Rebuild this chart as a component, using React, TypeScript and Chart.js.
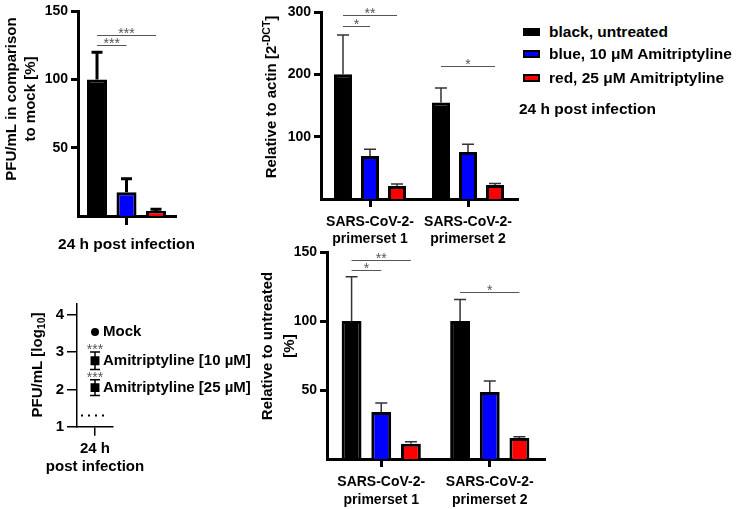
import React, { useEffect, useRef } from 'react';
import { Chart, registerables } from 'chart.js';

Chart.register(...registerables);

const FONT = "'Liberation Sans', Arial, Helvetica, sans-serif";

// ---------------- Data ----------------
const seriesNames = ['black, untreated', 'blue, 10 μM Amitriptyline', 'red, 25 μM Amitriptyline'];
const seriesColors = ['#000000', '#0000ff', '#ff0000'];
const legendNote = '24 h post infection';

// PFU/mL in comparison to mock [%]
const pfuCategories = ['24 h post infection'];
const pfuUntreated = [100];
const pfuAmi10 = [17.4];
const pfuAmi25 = [3.6];
const pfuUntreatedErr = [20];
const pfuAmi10Err = [10];
const pfuAmi25Err = [1.4];
const pfuTicks = [50, 100, 150];
const pfuSig = [
  { cat: 0, from: 0, to: 1, value: 125, text: '***' },
  { cat: 0, from: 0, to: 2, value: 133, text: '***' },
];

// Relative to actin [2^-DCT]
const primerCategories = [['SARS-CoV-2-', 'primerset 1'], ['SARS-CoV-2-', 'primerset 2']];
const actinUntreated = [200, 155];
const actinAmi10 = [69, 75.5];
const actinAmi25 = [21, 22.5];
const actinUntreatedErr = [63, 23];
const actinAmi10Err = [11, 12.5];
const actinAmi25Err = [3, 2.5];
const actinTicks = [100, 200, 300];
const actinSig = [
  { cat: 0, from: 0, to: 1, value: 278, text: '*' },
  { cat: 0, from: 0, to: 2, value: 295, text: '**' },
  { cat: 1, from: 0, to: 2, value: 213, text: '*' },
];

// Relative to untreated [%]
const relUntreated = [100, 100];
const relAmi10 = [34, 48.5];
const relAmi25 = [11, 15.2];
const relUntreatedErr = [32, 15.5];
const relAmi10Err = [6.5, 8];
const relAmi25Err = [1.5, 1];
const relTicks = [50, 100, 150];
const relSig = [
  { cat: 0, from: 0, to: 1, value: 137, text: '*' },
  { cat: 0, from: 0, to: 2, value: 144, text: '**' },
  { cat: 1, from: 0, to: 2, value: 121, text: '*' },
];

// PFU/mL [log10]
const logCategories = [['24 h', 'post infection']];
const logGroups = ['Mock', 'Amitriptyline [10 µM]', 'Amitriptyline [25 µM]'];
const logMeans = [3.54, 2.77, 2.05];
const logErr = [0, 0.235, 0.21];
const logSig = ['', '***', '***'];
const logMarkers = ['circle', 'rect', 'rect'];
const logTicks = [1, 2, 3, 4];
const logDetectionLimit = 1.3;

// ---------------- Plugins ----------------
const errorBarsPlugin = {
  id: 'errorBars',
  beforeDatasetsDraw(chart: any, _a: any, opts: any) {
    if (!opts || !opts.lineWidth) return;
    const { ctx } = chart;
    const y = chart.scales.y;
    chart.data.datasets.forEach((ds: any, di: number) => {
      if (!ds.errors) return;
      const meta = chart.getDatasetMeta(di);
      meta.data.forEach((el: any, i: number) => {
        const v = ds.data[i];
        const e = ds.errors[i];
        if (!e) return;
        const yTop = y.getPixelForValue(v + e);
        const yBot = y.getPixelForValue(opts.both ? v - e : v);
        const half = opts.cap / 2;
        ctx.save();
        ctx.strokeStyle = opts.color;
        ctx.lineWidth = opts.lineWidth;
        ctx.beginPath();
        ctx.moveTo(el.x, yBot);
        ctx.lineTo(el.x, yTop);
        ctx.moveTo(el.x - half, yTop);
        ctx.lineTo(el.x + half, yTop);
        if (opts.both) {
          ctx.moveTo(el.x - half, yBot);
          ctx.lineTo(el.x + half, yBot);
        }
        ctx.stroke();
        ctx.restore();
      });
    });
  },
};

const sigPlugin = {
  id: 'sigBrackets',
  afterDatasetsDraw(chart: any, _a: any, opts: any) {
    if (!opts || !opts.items) return;
    const { ctx } = chart;
    const y = chart.scales.y;
    opts.items.forEach((it: any) => {
      const x1 = chart.getDatasetMeta(it.from).data[it.cat].x;
      const x2 = chart.getDatasetMeta(it.to).data[it.cat].x;
      const py = Math.round(y.getPixelForValue(it.value)) + 0.5;
      ctx.save();
      ctx.strokeStyle = opts.color;
      ctx.lineWidth = 1;
      ctx.beginPath();
      ctx.moveTo(x1, py);
      ctx.lineTo(x2, py);
      ctx.stroke();
      ctx.fillStyle = opts.color;
      ctx.font = `${opts.size}px ${FONT}`;
      ctx.textAlign = 'center';
      ctx.textBaseline = 'alphabetic';
      ctx.fillText(it.text, (x1 + x2) / 2, py + opts.textOffset);
      ctx.restore();
    });
  },
};

const pointLabelsPlugin = {
  id: 'pointLabels',
  afterDatasetsDraw(chart: any, _a: any, opts: any) {
    if (!opts || !opts.enabled) return;
    const { ctx } = chart;
    const y = chart.scales.y;
    chart.data.datasets.forEach((ds: any, di: number) => {
      const el = chart.getDatasetMeta(di).data[0];
      if (!el) return;
      ctx.save();
      ctx.fillStyle = '#000';
      ctx.font = `bold ${opts.size}px ${FONT}`;
      ctx.textAlign = 'left';
      ctx.textBaseline = 'middle';
      ctx.fillText(ds.label, el.x + opts.dx, el.y);
      if (ds.sig) {
        const top = y.getPixelForValue(ds.data[0] + (ds.errors ? ds.errors[0] : 0));
        ctx.fillStyle = opts.sigColor;
        ctx.font = `${opts.sigSize}px ${FONT}`;
        ctx.textAlign = 'center';
        ctx.textBaseline = 'alphabetic';
        ctx.fillText(ds.sig, el.x, top + opts.sigOffset);
      }
      ctx.restore();
    });
  },
};

const detectionLimitPlugin = {
  id: 'detectionLimit',
  beforeDatasetsDraw(chart: any, _a: any, opts: any) {
    if (!opts || opts.value == null) return;
    const { ctx, chartArea } = chart;
    const py = chart.scales.y.getPixelForValue(opts.value);
    ctx.save();
    ctx.strokeStyle = '#000';
    ctx.lineWidth = 2;
    ctx.setLineDash([2, 5]);
    ctx.beginPath();
    ctx.moveTo(chartArea.left + opts.from, py);
    ctx.lineTo(chartArea.left + opts.to, py);
    ctx.stroke();
    ctx.restore();
  },
};

const rotTitlePlugin = {
  id: 'rotTitle',
  afterDraw(chart: any, _a: any, opts: any) {
    if (!opts || !opts.lines) return;
    const { ctx } = chart;
    const size = opts.size;
    const fontFor = (r: any) => `bold ${r.s ? size * 0.7 : size}px ${FONT}`;
    opts.lines.forEach((runs: any[], li: number) => {
      const widths = runs.map((r) => {
        ctx.font = fontFor(r);
        return ctx.measureText(r.t).width;
      });
      const total = widths.reduce((a: number, b: number) => a + b, 0);
      ctx.save();
      ctx.translate(opts.cx[li], opts.cy);
      ctx.rotate(-Math.PI / 2);
      ctx.fillStyle = '#000';
      ctx.textAlign = 'left';
      ctx.textBaseline = 'middle';
      let x = -total / 2;
      runs.forEach((r, i) => {
        ctx.font = fontFor(r);
        const dy = r.s === 'sup' ? -size * 0.32 : r.s === 'sub' ? size * 0.28 : 0;
        ctx.fillText(r.t, x, dy);
        x += widths[i];
      });
      ctx.restore();
    });
  },
};

const allPlugins = [errorBarsPlugin, sigPlugin, pointLabelsPlugin, detectionLimitPlugin, rotTitlePlugin];

// ---------------- Config builders ----------------
function yAxis(min: number, max: number, tickVals: number[], width: number, lw: number, tickLen: number, fontSize: number) {
  return {
    type: 'linear',
    min,
    max,
    afterBuildTicks: (s: any) => {
      s.ticks = tickVals.map((v) => ({ value: v }));
    },
    afterFit: (s: any) => {
      s.width = width;
    },
    border: { display: true, color: '#000', width: lw },
    grid: { display: true, drawOnChartArea: false, drawTicks: true, tickLength: tickLen, color: '#000', lineWidth: lw },
    ticks: { color: '#000', padding: 3, font: { family: FONT, size: fontSize, weight: 'bold' } },
  };
}

function xAxis(height: number, lw: number, tickLen: number, fontSize: number, lineHeight: number, padding: number) {
  return {
    type: 'category',
    offset: true,
    afterFit: (s: any) => {
      s.height = height;
    },
    border: { display: true, color: '#000', width: lw },
    grid: { display: true, offset: false, drawOnChartArea: false, drawTicks: true, tickLength: tickLen, color: '#000', lineWidth: lw },
    ticks: { color: '#000', padding, maxRotation: 0, autoSkip: false, font: { family: FONT, size: fontSize, weight: 'bold', lineHeight } },
  };
}

function barDatasets(values: number[][], errors: number[][], catPct: number, barPct: number) {
  return values.map((data, i) => ({
    label: seriesNames[i],
    data,
    errors: errors[i],
    backgroundColor: seriesColors[i],
    borderColor: '#000',
    borderWidth: 3,
    categoryPercentage: catPct,
    barPercentage: barPct,
  }));
}

const basePlugins = { legend: { display: false }, tooltip: { enabled: false } };

const pfuConfig: any = {
  type: 'bar',
  data: {
    labels: pfuCategories,
    datasets: barDatasets([pfuUntreated, pfuAmi10, pfuAmi25], [pfuUntreatedErr, pfuAmi10Err, pfuAmi25Err], 0.912, 0.68),
  },
  options: {
    responsive: false,
    animation: false,
    layout: { padding: { top: 8, right: 85, left: 0, bottom: 0 } },
    scales: { x: xAxis(44, 3, 9, 15.5, 1.2, 10), y: yAxis(0, 150, pfuTicks, 78, 3, 7, 14) },
    plugins: {
      ...basePlugins,
      errorBars: { lineWidth: 3, cap: 11, color: '#000', both: false },
      sigBrackets: { items: pfuSig, color: '#555', size: 14, textOffset: 2 },
      rotTitle: { size: 15, cx: [12, 31], cy: 99, lines: [[{ t: 'PFU/mL in comparison' }], [{ t: 'to mock [%]' }]] },
    },
  },
  plugins: allPlugins,
};

const actinConfig: any = {
  type: 'bar',
  data: {
    labels: primerCategories,
    datasets: barDatasets([actinUntreated, actinAmi10, actinAmi25], [actinUntreatedErr, actinAmi10Err, actinAmi25Err], 0.827, 0.667),
  },
  options: {
    responsive: false,
    animation: false,
    layout: { padding: { top: 12, right: 3, left: 0, bottom: 0 } },
    scales: { x: xAxis(51, 3, 8, 14, 1.25, 6), y: yAxis(0, 300, actinTicks, 81, 3, 7, 14) },
    plugins: {
      ...basePlugins,
      errorBars: { lineWidth: 1.5, cap: 12, color: '#333', both: false },
      sigBrackets: { items: actinSig, color: '#555', size: 14, textOffset: 2 },
      rotTitle: { size: 15, cx: [32], cy: 97, lines: [[{ t: 'Relative to actin [2' }, { t: '-DCT', s: 'sup' }, { t: ']' }]] },
    },
  },
  plugins: allPlugins,
};

const relConfig: any = {
  type: 'bar',
  data: {
    labels: primerCategories,
    datasets: barDatasets([relUntreated, relAmi10, relAmi25], [relUntreatedErr, relAmi10Err, relAmi25Err], 0.82, 0.67),
  },
  options: {
    responsive: false,
    animation: false,
    layout: { padding: { top: 12, right: 6, left: 0, bottom: 0 } },
    scales: { x: xAxis(50, 3, 8, 14, 1.25, 6.75), y: yAxis(0, 150, relTicks, 77, 3, 7, 14) },
    plugins: {
      ...basePlugins,
      errorBars: { lineWidth: 1.5, cap: 12, color: '#333', both: false },
      sigBrackets: { items: relSig, color: '#555', size: 14, textOffset: 2 },
      rotTitle: { size: 15, cx: [18, 40], cy: 106, lines: [[{ t: 'Relative to untreated' }], [{ t: '[%]' }]] },
    },
  },
  plugins: allPlugins,
};

const logConfig: any = {
  type: 'line',
  data: {
    labels: logCategories,
    datasets: logGroups.map((g, i) => ({
      label: g,
      data: [logMeans[i]],
      errors: [logErr[i]],
      sig: logSig[i],
      showLine: false,
      pointStyle: logMarkers[i],
      pointRadius: logMarkers[i] === 'circle' ? 4 : 6.3,
      pointBackgroundColor: '#000',
      pointBorderColor: '#000',
      pointBorderWidth: 0,
    })),
  },
  options: {
    responsive: false,
    animation: false,
    layout: { padding: { top: 23.8, right: 147, left: 0, bottom: 0 } },
    scales: { x: xAxis(82.3, 1.5, 9, 15, 1.2, 4.3), y: yAxis(1, 4.3, logTicks, 77, 1.5, 10, 15) },
    plugins: {
      ...basePlugins,
      errorBars: { lineWidth: 1.5, cap: 10, color: '#000', both: true },
      pointLabels: { enabled: true, size: 15, dx: 8, sigColor: '#555', sigSize: 14, sigOffset: 2 },
      detectionLimit: { value: logDetectionLimit, from: 4, to: 29 },
      rotTitle: { size: 15, cx: [38], cy: 85, lines: [[{ t: 'PFU/mL [log' }, { t: '10', s: 'sub' }, { t: ']' }]] },
    },
  },
  plugins: allPlugins,
};

// ---------------- Components ----------------
function ChartBox({ config, left, top, width, height }: any) {
  const ref = useRef<HTMLCanvasElement>(null);
  useEffect(() => {
    const chart = new Chart(ref.current as HTMLCanvasElement, config);
    return () => chart.destroy();
  }, []);
  return (
    <canvas
      ref={ref}
      width={width}
      height={height}
      style={{ position: 'absolute', left, top, width, height }}
    />
  );
}

const legendRowsY = [32, 54, 78];

export default function App() {
  return (
    <div style={{ position: 'fixed', left: 0, top: 0, width: 736, height: 509, background: '#fff', overflow: 'hidden' }}>
      <ChartBox config={pfuConfig} left={0} top={0} width={260} height={260} />
      <ChartBox config={actinConfig} left={240} top={0} width={280} height={250} />
      <ChartBox config={relConfig} left={250} top={240} width={300} height={269} />
      <ChartBox config={logConfig} left={0} top={280} width={260} height={229} />
      {seriesNames.map((n, i) => (
        <div
          key={n}
          style={{
            position: 'absolute',
            left: 523,
            top: legendRowsY[i] - 10,
            height: 20,
            display: 'flex',
            alignItems: 'center',
            font: `bold 15.5px ${FONT}`,
            color: '#000',
            whiteSpace: 'nowrap',
          }}
        >
          <span
            style={{
              display: 'inline-block',
              width: 17,
              height: 8,
              boxSizing: 'border-box',
              border: '2px solid #000',
              background: seriesColors[i],
              marginRight: 9,
            }}
          />
          {n}
        </div>
      ))}
      <div
        style={{
          position: 'absolute',
          left: 519,
          top: 100,
          height: 20,
          lineHeight: '20px',
          font: `bold 15.5px ${FONT}`,
          color: '#000',
          whiteSpace: 'nowrap',
        }}
      >
        {legendNote}
      </div>
    </div>
  );
}
